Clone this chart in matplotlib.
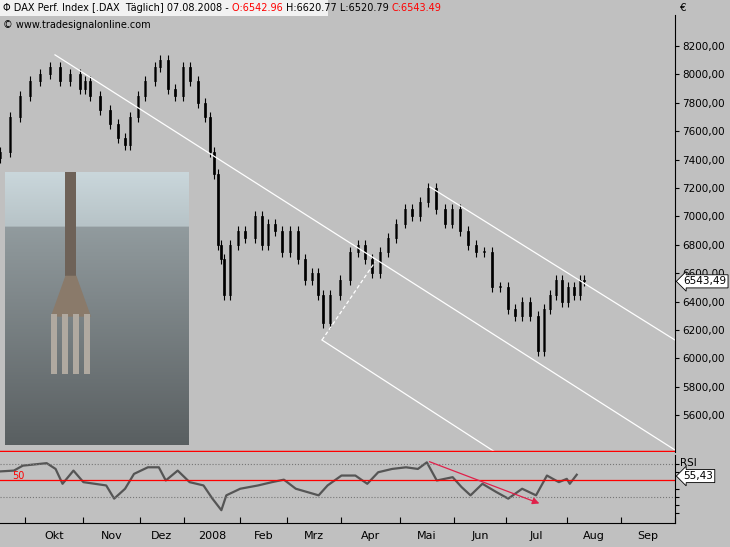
import numpy as np
import matplotlib
matplotlib.use("Agg")
import matplotlib.pyplot as plt
from matplotlib.patches import Rectangle, Polygon

PX_PER_DAY = 2.7

# closes (x in pixels, price)
price_px = [0, 10, 20, 30, 40, 50, 60, 70, 80, 85, 90, 100, 110, 118, 125, 130, 138, 145, 155, 160,
            168, 175, 183, 190, 198, 205, 210, 214, 218, 221, 224, 230, 238, 245, 255, 262, 268, 275,
            282, 290, 298, 305, 312, 318, 323, 330, 340, 350, 358, 365, 372, 380, 388, 396, 405, 412,
            420, 428, 436, 445, 452, 460, 468, 476, 484, 492, 500, 508, 515, 522, 530, 538, 544, 550,
            556, 562, 568, 574, 580, 584]
price_close = [7450, 7700, 7850, 7950, 8000, 8050, 7950, 8000, 7900, 7950, 7850, 7750, 7650, 7550, 7500,
               7700, 7850, 7950, 8050, 8100, 7900, 7850, 8050, 7950, 7800, 7700, 7450, 7300, 6800, 6700,
               6450, 6800, 6900, 6850, 7000, 6800, 6950, 6900, 6750, 6900, 6700, 6550, 6600, 6450, 6250,
               6450, 6550, 6750, 6800, 6700, 6600, 6750, 6850, 6950, 7050, 7000, 7100, 7200, 7050, 6950,
               7050, 6900, 6800, 6750, 6750, 6500, 6500, 6350, 6300, 6400, 6300, 6050, 6350, 6450, 6550,
               6400, 6500, 6450, 6550, 6543]

rsi_px = [0, 14, 23, 47, 56, 63, 74, 84, 107, 115, 126, 135, 149, 160, 167, 179, 191, 205, 214, 223,
          228, 242, 260, 274, 286, 298, 321, 330, 344, 358, 370, 381, 395, 409, 421, 430, 440, 456,
          465, 474, 486, 500, 512, 526, 540, 551, 563, 571, 574, 581]
rsi_val = [61, 62, 68, 71, 64, 46, 62, 48, 44, 28, 40, 58, 66, 66, 50, 62, 48, 44, 28, 14,
           32, 40, 44, 48, 51, 40, 32, 44, 56, 56, 46, 60, 64, 66, 64, 72, 50, 54, 42, 32,
           46, 36, 28, 40, 32, 56, 48, 52, 46, 57]

month_starts = [25, 84, 141, 185, 242, 289, 344, 403, 457, 510, 571, 626, 680]
month_names = ["Okt", "Nov", "Dez", "2008", "Feb", "Mrz", "Apr", "Mai", "Jun", "Jul", "Aug", "Sep"]
price_ticks = [5600, 5800, 6000, 6200, 6400, 6600, 6800, 7000, 7200, 7400, 7600, 7800, 8000, 8200]

bg = "#c0c0c0"
fig = plt.figure(figsize=(7.3, 5.47), dpi=100, facecolor=bg)

ax = fig.add_axes([0, 0.1737, 675 / 730, 0.799], facecolor=bg)
ax.set_xlim(0, 675 / PX_PER_DAY)
ax.set_ylim(5342, 8418)

d = np.array(price_px) / PX_PER_DAY
c = np.array(price_close, dtype=float)
o = np.r_[c[0] - 40, c[:-1]]
for xi, oi, ci in zip(d, o, c):
    hi, lo = max(oi, ci) + 35, min(oi, ci) - 35
    ax.vlines(xi, lo, hi, color="black", lw=0.8)
    col = "white" if ci >= oi else "black"
    ax.add_patch(Rectangle((xi - 0.45, min(oi, ci)), 0.9, max(abs(ci - oi), 8),
                           facecolor=col, edgecolor="black", lw=0.5))

# trend channel lines
def px(xp):
    return xp / PX_PER_DAY
ax.plot([px(55), px(675)], [8137, 5356], color="white", lw=0.9)
ax.plot([px(430), px(675)], [7207, 6130], color="white", lw=0.9)
ax.plot([px(322), px(495)], [6130, 5342], color="white", lw=0.9)
ax.plot([px(322), px(375)], [6130, 6679], color="white", lw=0.9, ls=(0, (3, 2)))

ax.yaxis.tick_right()
ax.set_yticks(price_ticks)
ax.set_yticklabels([f"{t},00" for t in price_ticks], fontsize=7.5)
ax.set_xticks([])
ax.tick_params(axis="y", length=3, pad=2)
for s in ax.spines.values():
    s.set_visible(False)
ax.spines["right"].set_visible(True)
ax.spines["right"].set_color("black")
ax.annotate("6543,49", xy=(1.0, 6543), xycoords=("axes fraction", "data"), xytext=(6, 0),
            textcoords="offset points", fontsize=7.5, va="center",
            bbox=dict(boxstyle="larrow,pad=0.15", fc="white", ec="black", lw=0.6))
ax.axhline(5342, color="red", lw=2.5)

# header, pieces placed one after another
parts = [("\u03a6 DAX Perf. Index [.DAX  Täglich] 07.08.2008 - ", "black"), ("O:6542.96 ", "red"),
         ("H:6620.77 L:6520.79 ", "black"), ("C:6543.49", "red")]
fig.patches.append(Rectangle((0, 1 - 16 / 547), 328 / 730, 16 / 547, transform=fig.transFigure,
                             fc="#f2f2f2", ec="none"))
fig.canvas.draw()
r = fig.canvas.get_renderer()
xpos = 3
for txt, col in parts:
    t = fig.text(xpos / 730, 1 - 8 / 547, txt, color=col, fontsize=7, va="center")
    xpos += t.get_window_extent(r).width
fig.text(3 / 730, 1 - 25 / 547, "© www.tradesignalonline.com", fontsize=7, va="center")
fig.text(680 / 730, 1 - 8 / 547, "€", fontsize=7.5, va="center")

# photo inset: sky, sea and a fork
pa = fig.add_axes([5 / 730, 1 - 445 / 547, 183 / 730, 273 / 547])
sky = np.linspace(0.86, 0.78, 40)[:, None] * np.ones((40, 10))
sea = np.linspace(0.62, 0.38, 160)[:, None] * np.ones((160, 10))
img = np.vstack([sky, sea])
rgb = np.dstack([img * 0.92, img * 0.98, img])
pa.imshow(rgb, extent=[0, 1, 0, 1], aspect="auto")
fork = "#8a7a6a"
pa.add_patch(Rectangle((0.33, 0.62), 0.06, 0.38, fc="#6e6258", ec="none"))
pa.add_patch(Polygon([[0.33, 0.62], [0.39, 0.62], [0.47, 0.47], [0.25, 0.47]], fc=fork, ec="none"))
for tx in [0.25, 0.31, 0.37, 0.43]:
    pa.add_patch(Rectangle((tx, 0.26), 0.035, 0.22, fc="#b0a9a0", ec="none"))
pa.set_xlim(0, 1)
pa.set_ylim(0, 1)
pa.axis("off")

# RSI panel
ra = fig.add_axes([0, 0.0439, 675 / 730, 0.1243], facecolor=bg)
ra.set_xlim(0, 675 / PX_PER_DAY)
ra.set_ylim(-1.5, 80.9)
ra.plot(np.array(rsi_px) / PX_PER_DAY, rsi_val, color="#555555", lw=1.6)
ra.axhline(50, color="red", lw=0.9)
ra.axhline(70, color="#777777", lw=0.8, ls=":")
ra.axhline(30, color="#777777", lw=0.8, ls=":")
ra.text(px(12), 52, "50", color="red", fontsize=7)
ra.annotate("", xy=(px(546), 21), xytext=(px(430), 74),
            arrowprops=dict(arrowstyle="-|>", color="#e0204a", lw=0.9))
ra.yaxis.tick_right()
ra.set_yticks([10, 20, 30, 40, 60, 70])
ra.set_yticklabels([])
ra.tick_params(axis="y", length=3)
ra.set_xticks(np.array(month_starts) / PX_PER_DAY)
ra.set_xticklabels([])
ra.set_xticks([(a + b) / 2 / PX_PER_DAY for a, b in zip(month_starts[:-1], month_starts[1:])], minor=True)
ra.set_xticklabels(month_names, minor=True, fontsize=8)
ra.tick_params(axis="x", which="minor", length=0, pad=6)
ra.tick_params(axis="x", which="major", length=4, direction="in")
for s in ra.spines.values():
    s.set_visible(False)
ra.spines["right"].set_visible(True)
ra.spines["bottom"].set_visible(True)
fig.text(680 / 730, 1 - 463 / 547, "RSI", fontsize=7.5, va="center")
ra.annotate("55,43", xy=(1.0, 55.4), xycoords=("axes fraction", "data"), xytext=(6, 0),
            textcoords="offset points", fontsize=7.5, va="center",
            bbox=dict(boxstyle="larrow,pad=0.15", fc="white", ec="black", lw=0.6))

fig.savefig("out.png", dpi=100, facecolor=bg)
